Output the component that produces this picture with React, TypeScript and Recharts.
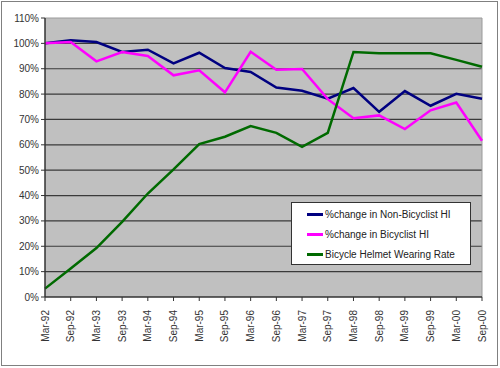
import { LineChart, Line, XAxis, YAxis, CartesianGrid, ReferenceLine } from 'recharts';

const periods = [
  'Mar-92', 'Sep-92', 'Mar-93', 'Sep-93', 'Mar-94', 'Sep-94', 'Mar-95', 'Sep-95', 'Mar-96',
  'Sep-96', 'Mar-97', 'Sep-97', 'Mar-98', 'Sep-98', 'Mar-99', 'Sep-99', 'Mar-00', 'Sep-00',
];
const nonBicyclist = [100, 101.2, 100.5, 96.6, 97.5, 92.1, 96.3, 90.3, 88.7, 82.6, 81.3, 78.2, 82.4, 73, 81.2, 75.4, 80.1, 78.2];
const bicyclist = [100, 100.5, 92.9, 96.6, 95, 87.4, 89.4, 80.7, 96.7, 89.6, 89.9, 78, 70.5, 71.6, 66.2, 73.6, 76.7, 61.6];
const helmetRate = [3.3, 11.2, 19.3, 29.6, 40.8, 50.3, 60.3, 63.2, 67.4, 64.7, 59.2, 64.7, 96.6, 96.1, 96.1, 96.1, 93.5, 90.8];
const yTicks = [0, 10, 20, 30, 40, 50, 60, 70, 80, 90, 100, 110];

const seriesInfo = [
  { key: 'nonBicyclist', name: '%change in Non-Bicyclist HI', color: '#000080' },
  { key: 'bicyclist', name: '%change in Bicyclist HI', color: '#FF00FF' },
  { key: 'helmet', name: 'Bicycle Helmet Wearing Rate', color: '#006A00' },
];

const data = periods.map((p, i) => ({
  period: p,
  nonBicyclist: nonBicyclist[i],
  bicyclist: bicyclist[i],
  helmet: helmetRate[i],
}));

const font = '"Liberation Sans", Arial, sans-serif';

function XTick({ x, y, payload }: any) {
  return (
    <text
      x={x}
      y={y + 7}
      transform={`rotate(-90 ${x} ${y + 7})`}
      textAnchor="end"
      dy="0.35em"
      fontSize={10}
      fontFamily={font}
      fill="#333"
    >
      {payload.value}
    </text>
  );
}

function LegendBox() {
  return (
    <div
      style={{
        position: 'absolute',
        left: 291,
        top: 202,
        width: 180,
        height: 63,
        background: '#fff',
        border: '1px solid #333',
        boxSizing: 'border-box',
        fontFamily: font,
        fontSize: 10,
        color: '#222',
        paddingTop: 1,
      }}
    >
      {seriesInfo.map((s) => (
        <div key={s.key} style={{ display: 'flex', alignItems: 'center', height: 20, paddingLeft: 15 }}>
          <span style={{ display: 'inline-block', width: 16, height: 3, background: s.color, marginRight: 2 }} />
          <span>{s.name}</span>
        </div>
      ))}
    </div>
  );
}

export default function App() {
  return (
    <div style={{ position: 'absolute', left: 0, top: 0, width: 500, height: 368, background: '#fff' }}>
      <div
        style={{
          position: 'absolute',
          left: 1,
          top: 1,
          width: 497,
          height: 365,
          border: '1px solid #808080',
          boxSizing: 'border-box',
        }}
      />
      <div style={{ position: 'absolute', left: 0, top: 0 }}>
        <LineChart width={500} height={368} data={data} margin={{ top: 18, right: 18, left: 0, bottom: 0 }}>
          <CartesianGrid
            vertical={false}
            horizontalValues={[10, 20, 30, 40, 50, 60, 70, 80, 90, 100]}
            stroke="#3a3a3a"
            strokeWidth={1.2}
            fill="#C0C0C0"
            fillOpacity={1}
          />
          <ReferenceLine y={110} stroke="#9a9a9a" />
          <ReferenceLine x="Sep-00" stroke="#9a9a9a" />
          <XAxis
            dataKey="period"
            height={71}
            interval={0}
            tick={<XTick />}
            tickLine={{ stroke: '#333' }}
            tickSize={4}
            axisLine={{ stroke: '#333', strokeWidth: 1.5 }}
          />
          <YAxis
            width={45}
            domain={[0, 110]}
            ticks={yTicks}
            interval={0}
            tickFormatter={(v: number) => `${v}%`}
            tick={{ fontSize: 10, fontFamily: font, fill: '#333' }}
            tickLine={{ stroke: '#333' }}
            tickSize={4}
            axisLine={{ stroke: '#333', strokeWidth: 1.5 }}
          />
          {seriesInfo.map((s) => (
            <Line
              key={s.key}
              type="linear"
              dataKey={s.key}
              name={s.name}
              stroke={s.color}
              strokeWidth={2.5}
              dot={false}
              isAnimationActive={false}
            />
          ))}
        </LineChart>
      </div>
      <LegendBox />
    </div>
  );
}
